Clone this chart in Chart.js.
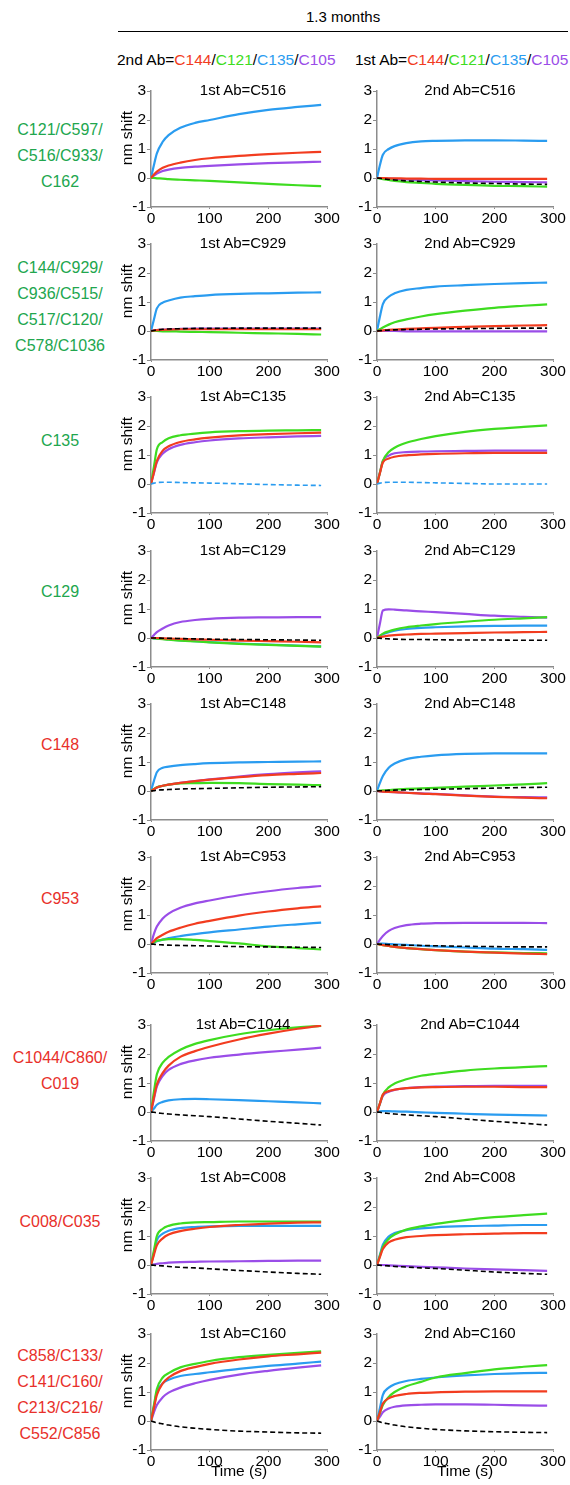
<!DOCTYPE html>
<html>
<head>
<meta charset="utf-8">
<script src="https://cdn.jsdelivr.net/npm/chart.js@4.4.1/dist/chart.umd.min.js"></script>
<style>
  body { margin: 0; background: #fff; font-family: "Liberation Sans", Arial, sans-serif; }
  #page { position: relative; width: 570px; height: 1485px; overflow: hidden; background: #fff; }
  #page canvas { position: absolute; }
  .txt { position: absolute; white-space: nowrap; color: #000; }
  .ttl { font-size: 15px; line-height: 18px; width: 200px; text-align: center; }
  .rowlab { font-size: 16px; line-height: 26px; width: 120px; text-align: center; }
  .ytl { font-size: 15.5px; line-height: 18px; width: 80px; text-align: center; transform: rotate(-90deg); }
</style>
</head>
<body>
<div id="page"></div>
<script>
// colours
const RED = '#f23c1f', GREEN = '#3edc20', BLUE = '#2a9cf0', PURPLE = '#9a4de8';
const LAB_GREEN = '#21a64e', LAB_RED = '#e8302a';

// time points (s) and axes
const timeS = [0, 5, 10, 20, 30, 50, 75, 100, 150, 200, 250, 290];
const xTicks = [0, 100, 200, 300];
const yTicks = [-1, 0, 1, 2, 3];

// rows
const rowAbs = ['C516', 'C929', 'C135', 'C129', 'C148', 'C953', 'C1044', 'C008', 'C160'];
const rowLabels = [
  ['C121/C597/', 'C516/C933/', 'C162'],
  ['C144/C929/', 'C936/C515/', 'C517/C120/', 'C578/C1036'],
  ['C135'],
  ['C129'],
  ['C148'],
  ['C953'],
  ['C1044/C860/', 'C019'],
  ['C008/C035'],
  ['C858/C133/', 'C141/C160/', 'C213/C216/', 'C552/C856']
];
const rowLabelColors = [LAB_GREEN, LAB_GREEN, LAB_GREEN, LAB_GREEN, LAB_RED, LAB_RED, LAB_RED, LAB_RED, LAB_RED];
const ctrlColors = ['#000', '#000', BLUE, '#000', '#000', '#000', '#000', '#000', '#000'];

// series per panel (red=C144, green=C121, blue=C135, purple=C105, ctrl=dashed)
const c516First = {
  red:    [0, 0.12, 0.22, 0.35, 0.43, 0.53, 0.62, 0.68, 0.76, 0.82, 0.87, 0.9],
  green:  [0, 0, -0.01, -0.02, -0.04, -0.06, -0.08, -0.1, -0.15, -0.2, -0.25, -0.28],
  blue:   [0, 0.45, 0.85, 1.25, 1.48, 1.73, 1.9, 2.0, 2.2, 2.35, 2.45, 2.52],
  purple: [0, 0.08, 0.15, 0.24, 0.29, 0.35, 0.39, 0.42, 0.47, 0.51, 0.54, 0.56]
};
const c516Second = {
  red:    [0, 0, 0, -0.01, -0.01, -0.02, -0.02, -0.03, -0.03, -0.03, -0.03, -0.03],
  green:  [0, -0.02, -0.04, -0.07, -0.1, -0.14, -0.17, -0.2, -0.24, -0.27, -0.28, -0.3],
  blue:   [0, 0.45, 0.8, 1.0, 1.1, 1.2, 1.26, 1.28, 1.3, 1.3, 1.29, 1.28],
  purple: [0, 0, -0.01, -0.02, -0.03, -0.05, -0.07, -0.08, -0.11, -0.13, -0.14, -0.15],
  ctrl:   [0, -0.01, -0.03, -0.05, -0.07, -0.1, -0.12, -0.14, -0.17, -0.19, -0.21, -0.22]
};
const c929First = {
  red:    [0, 0.02, 0.03, 0.04, 0.05, 0.06, 0.06, 0.06, 0.06, 0.06, 0.06, 0.06],
  green:  [0, 0, 0, -0.01, -0.01, -0.02, -0.03, -0.04, -0.06, -0.08, -0.1, -0.12],
  blue:   [0, 0.4, 0.78, 0.98, 1.05, 1.15, 1.2, 1.24, 1.28, 1.3, 1.32, 1.33],
  purple: [0, 0.02, 0.03, 0.05, 0.06, 0.07, 0.08, 0.08, 0.08, 0.08, 0.08, 0.08],
  ctrl:   [0, 0.02, 0.04, 0.06, 0.07, 0.08, 0.09, 0.09, 0.1, 0.1, 0.1, 0.1]
};
const c929Second = {
  red:    [0, 0.01, 0.02, 0.04, 0.05, 0.07, 0.09, 0.11, 0.14, 0.17, 0.19, 0.2],
  green:  [0, 0.06, 0.12, 0.22, 0.3, 0.4, 0.5, 0.58, 0.7, 0.8, 0.87, 0.92],
  blue:   [0, 0.5, 0.93, 1.18, 1.3, 1.42, 1.48, 1.53, 1.58, 1.62, 1.65, 1.67],
  purple: [0, 0, 0, 0, 0, -0.01, -0.01, -0.01, -0.01, -0.01, -0.01, -0.01],
  ctrl:   [0, 0.01, 0.02, 0.03, 0.04, 0.05, 0.06, 0.07, 0.08, 0.09, 0.1, 0.1]
};
const c135First = {
  red:    [0, 0.4, 0.8, 1.15, 1.3, 1.45, 1.54, 1.6, 1.68, 1.72, 1.75, 1.77],
  green:  [0, 0.6, 1.2, 1.45, 1.58, 1.68, 1.74, 1.78, 1.82, 1.84, 1.85, 1.86],
  purple: [0, 0.38, 0.75, 1.05, 1.2, 1.35, 1.44, 1.5, 1.57, 1.61, 1.64, 1.66],
  ctrl:   [0, 0.03, 0.05, 0.06, 0.06, 0.05, 0.04, 0.03, 0.01, -0.02, -0.04, -0.05]
};
const c135Second = {
  red:    [0, 0.38, 0.74, 0.88, 0.94, 0.99, 1.02, 1.04, 1.06, 1.07, 1.07, 1.07],
  green:  [0, 0.4, 0.8, 1.1, 1.25, 1.42, 1.55, 1.65, 1.8, 1.9, 1.97, 2.02],
  purple: [0, 0.4, 0.8, 0.98, 1.06, 1.1, 1.12, 1.13, 1.14, 1.15, 1.15, 1.15],
  ctrl:   [0, 0.03, 0.05, 0.06, 0.06, 0.06, 0.05, 0.04, 0.02, 0, 0, 0]
};
const c129First = {
  red:    [0, 0, 0, -0.01, -0.02, -0.03, -0.05, -0.06, -0.09, -0.11, -0.13, -0.15],
  green:  [0, -0.01, -0.02, -0.04, -0.06, -0.09, -0.12, -0.15, -0.2, -0.24, -0.27, -0.3],
  blue:   [0, -0.01, -0.02, -0.03, -0.05, -0.08, -0.11, -0.14, -0.19, -0.23, -0.26, -0.29],
  purple: [0, 0.1, 0.2, 0.33, 0.43, 0.55, 0.62, 0.66, 0.7, 0.71, 0.72, 0.72],
  ctrl:   [0, 0, 0, -0.01, -0.01, -0.02, -0.03, -0.04, -0.05, -0.06, -0.07, -0.08]
};
const c129Second = {
  red:    [0, 0.03, 0.05, 0.08, 0.1, 0.12, 0.14, 0.15, 0.17, 0.19, 0.2, 0.21],
  green:  [0, 0.08, 0.15, 0.23, 0.29, 0.37, 0.43, 0.48, 0.56, 0.63, 0.68, 0.72],
  blue:   [0, 0.07, 0.13, 0.2, 0.25, 0.31, 0.35, 0.37, 0.4, 0.42, 0.43, 0.43],
  purple: [0, 0.5, 0.95, 0.99, 0.98, 0.95, 0.92, 0.89, 0.83, 0.77, 0.73, 0.7],
  ctrl:   [0, -0.01, -0.02, -0.03, -0.04, -0.05, -0.05, -0.06, -0.07, -0.07, -0.08, -0.08]
};
const c148First = {
  red:    [0, 0.06, 0.12, 0.18, 0.22, 0.28, 0.34, 0.39, 0.48, 0.55, 0.59, 0.62],
  green:  [0, 0.07, 0.13, 0.18, 0.22, 0.26, 0.27, 0.28, 0.27, 0.24, 0.22, 0.2],
  blue:   [0, 0.35, 0.65, 0.8, 0.84, 0.89, 0.93, 0.96, 0.99, 1.0, 1.01, 1.02],
  purple: [0, 0.06, 0.12, 0.18, 0.22, 0.28, 0.34, 0.4, 0.5, 0.58, 0.64, 0.68],
  ctrl:   [0, 0.01, 0.03, 0.04, 0.05, 0.07, 0.08, 0.09, 0.11, 0.13, 0.14, 0.15]
};
const c148Second = {
  red:    [0, -0.01, -0.02, -0.03, -0.04, -0.06, -0.09, -0.11, -0.16, -0.2, -0.23, -0.25],
  green:  [0, 0.01, 0.02, 0.03, 0.05, 0.07, 0.09, 0.11, 0.15, 0.19, 0.23, 0.27],
  blue:   [0, 0.28, 0.52, 0.8, 0.95, 1.1, 1.18, 1.23, 1.28, 1.3, 1.3, 1.3],
  purple: [0, -0.01, -0.02, -0.03, -0.04, -0.06, -0.08, -0.1, -0.15, -0.19, -0.21, -0.22],
  ctrl:   [0, 0.01, 0.01, 0.02, 0.03, 0.04, 0.05, 0.06, 0.08, 0.1, 0.12, 0.13]
};
const c953First = {
  red:    [0, 0.1, 0.2, 0.32, 0.42, 0.56, 0.7, 0.8, 0.98, 1.12, 1.23, 1.3],
  green:  [0, 0.06, 0.11, 0.15, 0.17, 0.17, 0.14, 0.1, 0.02, -0.08, -0.14, -0.19],
  blue:   [0, 0.05, 0.1, 0.15, 0.2, 0.27, 0.34, 0.4, 0.5, 0.6, 0.68, 0.74],
  purple: [0, 0.35, 0.6, 0.88, 1.05, 1.25, 1.4, 1.5, 1.68, 1.82, 1.93, 2.0],
  ctrl:   [0, -0.01, -0.02, -0.03, -0.04, -0.05, -0.06, -0.07, -0.09, -0.1, -0.11, -0.12]
};
const c953Second = {
  red:    [0, -0.02, -0.04, -0.07, -0.1, -0.14, -0.18, -0.21, -0.26, -0.3, -0.33, -0.35],
  green:  [0, -0.02, -0.04, -0.07, -0.1, -0.14, -0.18, -0.21, -0.26, -0.29, -0.31, -0.32],
  blue:   [0, 0.01, 0.01, 0, -0.01, -0.03, -0.06, -0.08, -0.12, -0.16, -0.18, -0.2],
  purple: [0, 0.15, 0.28, 0.45, 0.55, 0.65, 0.7, 0.72, 0.73, 0.73, 0.73, 0.72],
  ctrl:   [0, -0.01, -0.01, -0.02, -0.03, -0.04, -0.05, -0.06, -0.08, -0.09, -0.1, -0.1]
};
const c1044First = {
  red:    [0, 0.5, 0.95, 1.35, 1.6, 1.9, 2.1, 2.25, 2.5, 2.7, 2.87, 2.98],
  green:  [0, 0.7, 1.3, 1.7, 1.9, 2.15, 2.35, 2.48, 2.68, 2.82, 2.92, 2.97],
  blue:   [0, 0.12, 0.25, 0.35, 0.4, 0.44, 0.45, 0.44, 0.41, 0.37, 0.33, 0.3],
  purple: [0, 0.45, 0.88, 1.25, 1.45, 1.65, 1.78, 1.87, 1.98, 2.07, 2.15, 2.22],
  ctrl:   [0, -0.01, -0.03, -0.05, -0.07, -0.1, -0.13, -0.16, -0.24, -0.32, -0.39, -0.45]
};
const c1044Second = {
  red:    [0, 0.3, 0.6, 0.72, 0.77, 0.82, 0.85, 0.86, 0.87, 0.87, 0.86, 0.86],
  green:  [0, 0.3, 0.6, 0.85, 0.98, 1.13, 1.25, 1.32, 1.43, 1.5, 1.55, 1.58],
  blue:   [0, 0.02, 0.03, 0.03, 0.02, 0.01, -0.01, -0.03, -0.06, -0.09, -0.11, -0.12],
  purple: [0, 0.28, 0.55, 0.7, 0.76, 0.82, 0.86, 0.88, 0.89, 0.9, 0.9, 0.9],
  ctrl:   [0, -0.01, -0.03, -0.05, -0.07, -0.1, -0.13, -0.16, -0.24, -0.32, -0.39, -0.45]
};
const c008First = {
  red:    [0, 0.35, 0.68, 0.92, 1.05, 1.17, 1.25, 1.31, 1.38, 1.43, 1.46, 1.47],
  green:  [0, 0.5, 1.0, 1.25, 1.35, 1.43, 1.47, 1.48, 1.5, 1.5, 1.5, 1.5],
  blue:   [0, 0.42, 0.85, 1.08, 1.18, 1.27, 1.31, 1.33, 1.35, 1.35, 1.35, 1.35],
  purple: [0, 0.02, 0.04, 0.06, 0.08, 0.1, 0.11, 0.12, 0.13, 0.14, 0.15, 0.15],
  ctrl:   [0, -0.01, -0.02, -0.03, -0.05, -0.08, -0.1, -0.13, -0.19, -0.24, -0.29, -0.32]
};
const c008Second = {
  red:    [0, 0.28, 0.55, 0.78, 0.87, 0.96, 1.0, 1.03, 1.06, 1.08, 1.1, 1.1],
  green:  [0, 0.32, 0.62, 0.9, 1.05, 1.22, 1.33, 1.42, 1.55, 1.65, 1.72, 1.77],
  blue:   [0, 0.35, 0.7, 0.98, 1.1, 1.2, 1.26, 1.3, 1.34, 1.36, 1.38, 1.38],
  purple: [0, 0, 0, -0.01, -0.02, -0.04, -0.06, -0.08, -0.12, -0.15, -0.18, -0.2],
  ctrl:   [0, -0.01, -0.02, -0.03, -0.05, -0.07, -0.1, -0.12, -0.18, -0.24, -0.29, -0.32]
};
const c160First = {
  red:    [0, 0.45, 0.9, 1.3, 1.5, 1.72, 1.86, 1.97, 2.12, 2.23, 2.3, 2.36],
  green:  [0, 0.55, 1.1, 1.5, 1.65, 1.85, 1.97, 2.07, 2.2, 2.28, 2.35, 2.4],
  blue:   [0, 0.5, 1.0, 1.3, 1.42, 1.55, 1.62, 1.68, 1.8, 1.9, 1.98, 2.05],
  purple: [0, 0.3, 0.55, 0.82, 0.98, 1.15, 1.3, 1.42, 1.6, 1.73, 1.84, 1.92],
  ctrl:   [0, -0.03, -0.06, -0.1, -0.14, -0.2, -0.25, -0.29, -0.35, -0.38, -0.41, -0.42]
};
const c160Second = {
  red:    [0, 0.3, 0.6, 0.78, 0.86, 0.93, 0.97, 0.99, 1.01, 1.02, 1.02, 1.02],
  green:  [0, 0.28, 0.55, 0.83, 1.0, 1.2, 1.35, 1.5, 1.65, 1.78, 1.87, 1.93],
  blue:   [0, 0.45, 0.9, 1.15, 1.27, 1.38, 1.45, 1.5, 1.57, 1.62, 1.65, 1.66],
  purple: [0, 0.15, 0.3, 0.43, 0.49, 0.54, 0.56, 0.57, 0.57, 0.56, 0.54, 0.53],
  ctrl:   [0, -0.03, -0.06, -0.1, -0.14, -0.2, -0.25, -0.29, -0.34, -0.37, -0.39, -0.4]
};

const panels = [
  [c516First, c516Second], [c929First, c929Second], [c135First, c135Second],
  [c129First, c129Second], [c148First, c148Second], [c953First, c953Second],
  [c1044First, c1044Second], [c008First, c008Second], [c160First, c160Second]
];

// layout (px)
const rowTops = [91, 244, 397, 551, 704, 857, 1025, 1178, 1334];
const rowLabelMid = [156, 307, 441, 592, 745, 899, 1071, 1222, 1395];
const colAxisX = [151, 377];
const titleMid = [243, 470];
const Y_W = 45, PLOT_W = 176, PAD_R = 18, PAD_T = 12, PLOT_H = 116;
const AXIS = '#8c8c8c';

Chart.defaults.font.family = '"Liberation Sans", Arial, sans-serif';
Chart.defaults.color = '#000';

const page = document.getElementById('page');

function addText(html, cls, left, top, color) {
  const d = document.createElement('div');
  d.className = 'txt ' + (cls || '');
  d.style.left = left + 'px';
  d.style.top = top + 'px';
  if (color) d.style.color = color;
  d.innerHTML = html;
  page.appendChild(d);
  return d;
}

// header
const h = addText('1.3 months', '', 306, 8);
h.style.fontSize = '15px';
const rule = document.createElement('div');
rule.style.cssText = 'position:absolute;left:118px;top:31px;width:450px;height:1px;background:#000';
page.appendChild(rule);
const legendAbs = [['C144', RED], ['C121', GREEN], ['C135', BLUE], ['C105', PURPLE]];
const legendHtml = legendAbs.map(a => '<span style="color:' + a[1] + '">' + a[0] + '</span>').join('/');
['2nd Ab=', '1st Ab='].forEach((p, i) => {
  const d = addText(p + legendHtml, '', i ? 355 : 117, 51);
  d.style.fontSize = '15.5px';
});

function series(vals) {
  return timeS.map((t, i) => ({ x: t, y: vals[i] }));
}

function line(vals, color, dashed) {
  return {
    data: series(vals),
    borderColor: color,
    borderWidth: dashed ? 1.6 : 2.2,
    borderDash: dashed ? [5, 3] : [],
    pointRadius: 0,
    fill: false,
    cubicInterpolationMode: 'monotone'
  };
}

function makePanel(r, c) {
  const p = panels[r][c];
  const last = r === rowAbs.length - 1;
  const xh = last ? 34 : 24;
  const cv = document.createElement('canvas');
  cv.width = Y_W + PLOT_W + PAD_R;
  cv.height = PAD_T + PLOT_H + xh;
  cv.style.left = (colAxisX[c] - Y_W) + 'px';
  cv.style.top = (rowTops[r] - PAD_T) + 'px';
  page.appendChild(cv);

  const ds = [];
  if (p.ctrl) ds.push(line(p.ctrl, ctrlColors[r], true));
  if (p.red) ds.push(line(p.red, RED));
  if (p.green) ds.push(line(p.green, GREEN));
  if (p.blue) ds.push(line(p.blue, BLUE));
  if (p.purple) ds.push(line(p.purple, PURPLE));

  new Chart(cv, {
    type: 'line',
    data: { datasets: ds },
    options: {
      responsive: false,
      animation: false,
      devicePixelRatio: 1,
      layout: { padding: { top: PAD_T, right: PAD_R, left: 0, bottom: 0 } },
      plugins: { legend: { display: false }, tooltip: { enabled: false } },
      scales: {
        x: {
          type: 'linear',
          min: xTicks[0], max: xTicks[xTicks.length - 1],
          afterBuildTicks: s => { s.ticks = xTicks.map(v => ({ value: v })); },
          afterFit: s => { s.height = xh; },
          ticks: { font: { size: 15.5 }, padding: 0, maxRotation: 0 },
          grid: { drawOnChartArea: false, tickLength: 2, color: AXIS },
          border: { color: AXIS, width: 1.5 },
          title: { display: last, text: 'Time (s)', font: { size: 15.5 }, padding: { top: 0, bottom: 3 } }
        },
        y: {
          min: yTicks[0], max: yTicks[yTicks.length - 1],
          afterBuildTicks: s => { s.ticks = yTicks.map(v => ({ value: v })); },
          afterFit: s => { s.width = Y_W; },
          ticks: { font: { size: 15.5 }, padding: 1 },
          grid: { drawOnChartArea: false, tickLength: 4, color: AXIS },
          border: { color: AXIS, width: 1.5 }
        }
      }
    }
  });

  addText((c === 0 ? '1st Ab=' : '2nd Ab=') + rowAbs[r], 'ttl', titleMid[c] - 100, rowTops[r] - 10);
  // rotated y-axis title on the left column, placed a bit above the plot middle as in the figure
  if (c === 0) addText('nm shift', 'ytl', 127 - 40, rowTops[r] + 47 - 9);
}

rowAbs.forEach((ab, r) => {
  const lines = rowLabels[r];
  addText(lines.join('<br>'), 'rowlab', 0, rowLabelMid[r] - lines.length * 13, rowLabelColors[r]);
  makePanel(r, 0);
  makePanel(r, 1);
});
</script>
</body>
</html>
